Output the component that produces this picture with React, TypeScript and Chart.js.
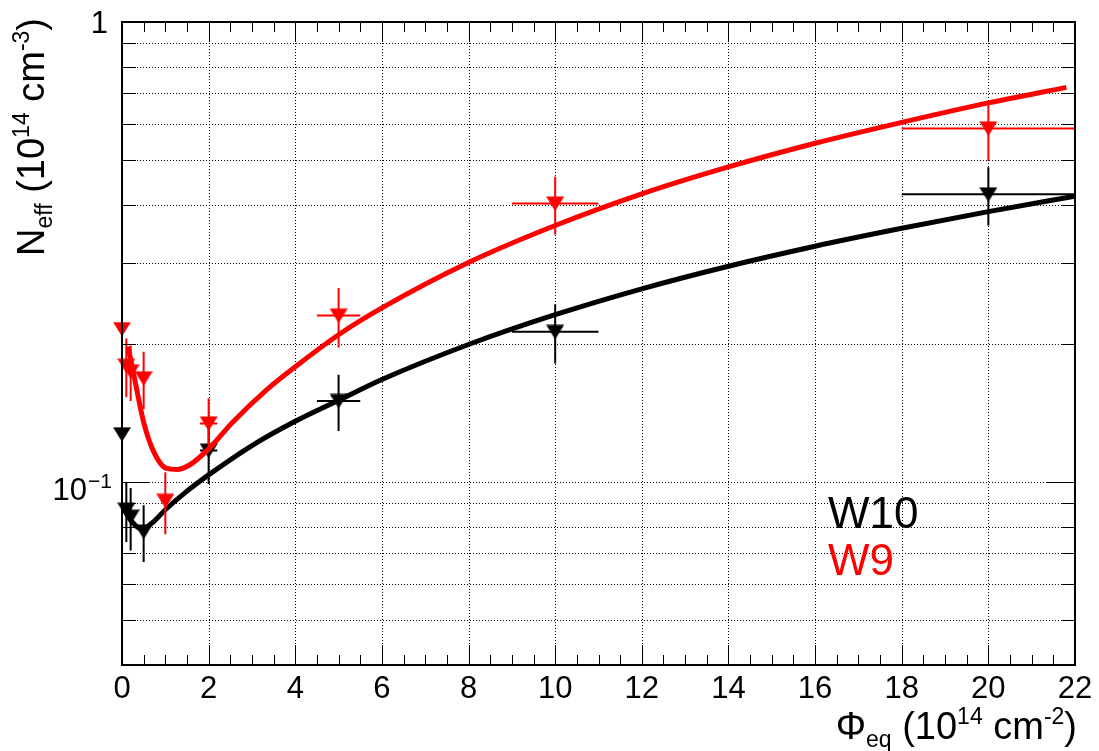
import React, { useEffect, useRef } from 'react';
import { Chart, registerables } from 'chart.js';

Chart.register(...registerables);

const FONT = '"Liberation Sans", Arial, Helvetica, sans-serif';
const RED = '#ff0000';
const BLACK = '#000000';

// W10 measurements: fluence (1e14 cm^-2) and N_eff (1e14 cm^-3)
const w10Fluence = [0, 0.1, 0.2, 0.5, 2, 5, 10, 20];
const w10FluenceErr = [0, 0.01, 0.02, 0.05, 0.2, 0.5, 1, 2];
const w10Neff = [0.127, 0.087, 0.084, 0.078, 0.117, 0.15, 0.212, 0.422];
const w10NeffErr = [0.017, 0.013, 0.013, 0.011, 0.018, 0.021, 0.031, 0.061];

// W9 measurements
const w9Fluence = [0, 0.1, 0.2, 0.5, 1, 2, 5, 10, 20];
const w9FluenceErr = [0, 0.01, 0.02, 0.05, 0.1, 0.2, 0.5, 1, 2];
const w9Neff = [0.215, 0.179, 0.174, 0.168, 0.091, 0.134, 0.23, 0.403, 0.587];
const w9NeffErr = [0.031, 0.026, 0.024, 0.024, 0.014, 0.018, 0.034, 0.058, 0.088];

// Fitted curves
const w10FitFluence = [0.03, 0.22, 0.45, 0.7, 1.0, 1.5, 2.0, 3.0, 4.0, 5.0, 6.0, 8.0, 10.0, 12.0, 14.0, 16.0, 18.0, 20.0, 22.0];
const w10FitNeff = [0.0879, 0.0822, 0.079, 0.0815, 0.087, 0.0955, 0.1036, 0.12, 0.1355, 0.1505, 0.167, 0.199, 0.231, 0.263, 0.2945, 0.3255, 0.356, 0.387, 0.418];
const w9FitFluence = [0.14, 0.3, 0.49, 0.72, 1.03, 1.27, 1.57, 2.0, 2.56, 3.35, 4.1, 5.0, 6.0, 8.0, 10.0, 12.0, 14.0, 16.0, 18.0, 20.0, 21.8];
const w9FitNeff = [0.197, 0.166, 0.136, 0.117, 0.107, 0.1065, 0.109, 0.118, 0.135, 0.159, 0.181, 0.209, 0.239, 0.3, 0.361, 0.423, 0.484, 0.545, 0.605, 0.667, 0.721];

// Axis ranges, grid and labels
const xMin = 0;
const xMax = 22;
const xStep = 2;
const xMinorStep = 0.5;
const yMin = 0.04;
const yMax = 1;
const yMajorValues = [0.1, 1];
const yMinorValues = [0.05, 0.06, 0.07, 0.08, 0.09, 0.2, 0.3, 0.4, 0.5, 0.6, 0.7, 0.8, 0.9];
const yLabelValues = [1, 0.1];
const yLabelBases = ['1', '10'];
const yLabelExps = ['', '\u22121'];
const legendNames = ['W10', 'W9'];
const legendColors = [BLACK, RED];

type Run = { t: string; s: number; dy?: number };

const xTitleRuns: Run[] = [
  { t: '\u03A6', s: 38 },
  { t: 'eq', s: 23, dy: 8 },
  { t: ' (10', s: 38 },
  { t: '14', s: 23, dy: -15 },
  { t: ' cm', s: 38 },
  { t: '-2', s: 23, dy: -15 },
  { t: ')', s: 38 },
];
const yTitleRuns: Run[] = [
  { t: 'N', s: 38 },
  { t: 'eff', s: 23, dy: 8 },
  { t: ' (10', s: 38 },
  { t: '14', s: 23, dy: -15 },
  { t: ' cm', s: 38 },
  { t: '-3', s: 23, dy: -15 },
  { t: ')', s: 38 },
];

function runsWidth(ctx: CanvasRenderingContext2D, runs: Run[]) {
  let w = 0;
  for (const r of runs) {
    ctx.font = `${r.s}px ${FONT}`;
    w += ctx.measureText(r.t).width;
  }
  return w;
}

function drawRuns(ctx: CanvasRenderingContext2D, runs: Run[], x: number, y: number) {
  let cx = x;
  ctx.textAlign = 'left';
  ctx.textBaseline = 'alphabetic';
  for (const r of runs) {
    ctx.font = `${r.s}px ${FONT}`;
    ctx.fillText(r.t, cx, y + (r.dy || 0));
    cx += ctx.measureText(r.t).width;
  }
}

function downTriangle(color: string) {
  const c = document.createElement('canvas');
  c.width = 18;
  c.height = 15;
  const g = c.getContext('2d')!;
  g.fillStyle = color;
  g.beginPath();
  g.moveTo(0, 0.5);
  g.lineTo(18, 0.5);
  g.lineTo(9, 15);
  g.closePath();
  g.fill();
  return c;
}

const errorBarPlugin = {
  id: 'errorBars',
  beforeDatasetDraw(chart: any, args: any) {
    const ds = chart.data.datasets[args.index];
    if (!ds.errorBars) return;
    const { ctx } = chart;
    const xs = chart.scales.x;
    const ys = chart.scales.y;
    ctx.save();
    ctx.strokeStyle = ds.errorBars.color;
    ctx.lineWidth = 2;
    ds.data.forEach((p: any, i: number) => {
      const ex = ds.errorBars.x[i];
      const ey = ds.errorBars.y[i];
      const px = xs.getPixelForValue(p.x);
      const py = ys.getPixelForValue(p.y);
      ctx.beginPath();
      ctx.moveTo(px, ys.getPixelForValue(p.y + ey));
      ctx.lineTo(px, ys.getPixelForValue(p.y - ey));
      if (ex > 0) {
        ctx.moveTo(xs.getPixelForValue(p.x - ex), py);
        ctx.lineTo(xs.getPixelForValue(p.x + ex), py);
      }
      ctx.stroke();
    });
    ctx.restore();
  },
};

const framePlugin = {
  id: 'frameGrid',
  beforeDatasetsDraw(chart: any) {
    const { ctx, chartArea: a } = chart;
    const xs = chart.scales.x;
    const ys = chart.scales.y;
    ctx.save();
    ctx.strokeStyle = '#000';
    ctx.lineWidth = 1;
    ctx.setLineDash([1, 2]);
    ctx.beginPath();
    for (let v = xMin + xStep; v < xMax; v += xStep) {
      const px = Math.round(xs.getPixelForValue(v)) + 0.5;
      ctx.moveTo(px, a.top);
      ctx.lineTo(px, a.bottom);
    }
    for (const v of [...yMinorValues, 0.1]) {
      const py = Math.round(ys.getPixelForValue(v)) + 0.5;
      ctx.moveTo(a.left, py);
      ctx.lineTo(a.right, py);
    }
    ctx.stroke();
    ctx.restore();
  },
  afterDraw(chart: any) {
    const { ctx, chartArea: a } = chart;
    const xs = chart.scales.x;
    const ys = chart.scales.y;
    ctx.save();
    ctx.strokeStyle = '#000';
    ctx.setLineDash([]);
    // ticks on all four sides, pointing inward
    ctx.lineWidth = 1;
    ctx.beginPath();
    for (let v = xMin; v <= xMax + 1e-9; v += xMinorStep) {
      const major = Math.abs(v / xStep - Math.round(v / xStep)) < 1e-6;
      const len = major ? 20 : 10;
      const px = Math.round(xs.getPixelForValue(v)) + 0.5;
      ctx.moveTo(px, a.bottom);
      ctx.lineTo(px, a.bottom - len);
      ctx.moveTo(px, a.top);
      ctx.lineTo(px, a.top + len);
    }
    const yTicks: [number, number][] = [
      ...yMajorValues.map((v) => [v, 28] as [number, number]),
      ...yMinorValues.map((v) => [v, 14] as [number, number]),
    ];
    for (const [v, len] of yTicks) {
      const py = Math.round(ys.getPixelForValue(v)) + 0.5;
      ctx.moveTo(a.left, py);
      ctx.lineTo(a.left + len, py);
      ctx.moveTo(a.right, py);
      ctx.lineTo(a.right - len, py);
    }
    ctx.stroke();
    // frame
    ctx.lineWidth = 2;
    ctx.strokeRect(a.left, a.top, a.right - a.left, a.bottom - a.top);

    // y tick labels (power-of-ten notation)
    ctx.fillStyle = '#000';
    yLabelValues.forEach((v, i) => {
      const py = ys.getPixelForValue(v);
      const exp = yLabelExps[i];
      ctx.textBaseline = 'alphabetic';
      ctx.textAlign = 'right';
      if (!exp) {
        ctx.font = `31px ${FONT}`;
        ctx.fillText(yLabelBases[i], a.left - 14, py + 11);
      } else {
        ctx.font = `21px ${FONT}`;
        const ew = ctx.measureText(exp).width;
        const right = a.left - 10;
        ctx.fillText(exp, right, py + 6);
        ctx.font = `31px ${FONT}`;
        ctx.fillText(yLabelBases[i], right - ew - 1, py + 18);
      }
    });

    // axis titles
    const xw = runsWidth(ctx, xTitleRuns);
    drawRuns(ctx, xTitleRuns, a.right + 2 - xw, 739);
    const yw = runsWidth(ctx, yTitleRuns);
    ctx.save();
    ctx.translate(44, a.top - 4 + yw);
    ctx.rotate(-Math.PI / 2);
    drawRuns(ctx, yTitleRuns, 0, 0);
    ctx.restore();

    // legend entries
    ctx.font = `44px ${FONT}`;
    ctx.textAlign = 'left';
    ctx.textBaseline = 'alphabetic';
    legendNames.forEach((name, i) => {
      ctx.fillStyle = legendColors[i];
      ctx.fillText(name, 828, 528 + i * 47);
    });
    ctx.restore();
  },
};

function points(xs: number[], ys: number[]) {
  return xs.map((x, i) => ({ x, y: ys[i] }));
}

export default function App() {
  const canvasRef = useRef<HTMLCanvasElement | null>(null);

  useEffect(() => {
    if (!canvasRef.current) return;
    const chart = new Chart(canvasRef.current, {
      type: 'scatter',
      data: {
        datasets: [
          {
            label: 'W9',
            data: points(w9Fluence, w9Neff),
            pointStyle: downTriangle(RED) as any,
            pointRadius: 9,
            borderColor: RED,
            backgroundColor: RED,
            showLine: false,
            clip: false as any,
            order: 1,
            errorBars: { x: w9FluenceErr, y: w9NeffErr, color: RED },
          } as any,
          {
            label: 'W9 fit',
            data: points(w9FitFluence, w9FitNeff),
            showLine: true,
            pointRadius: 0,
            borderColor: RED,
            borderWidth: 5,
            cubicInterpolationMode: 'monotone',
            order: 2,
          } as any,
          {
            label: 'W10 fit',
            data: points(w10FitFluence, w10FitNeff),
            showLine: true,
            pointRadius: 0,
            borderColor: BLACK,
            borderWidth: 5,
            cubicInterpolationMode: 'monotone',
            order: 3,
          } as any,
          {
            label: 'W10',
            data: points(w10Fluence, w10Neff),
            pointStyle: downTriangle(BLACK) as any,
            pointRadius: 9,
            borderColor: BLACK,
            backgroundColor: BLACK,
            showLine: false,
            clip: false as any,
            order: 4,
            errorBars: { x: w10FluenceErr, y: w10NeffErr, color: BLACK },
          } as any,
        ],
      },
      options: {
        responsive: false,
        animation: false,
        devicePixelRatio: 1,
        layout: { padding: { left: 0, right: 24, top: 22, bottom: 0 } },
        scales: {
          x: {
            type: 'linear',
            min: xMin,
            max: xMax,
            afterFit: (s: any) => {
              s.height = 86;
            },
            grid: { display: false, drawTicks: false },
            border: { display: false },
            ticks: {
              stepSize: xStep,
              autoSkip: false,
              maxRotation: 0,
              color: '#000',
              padding: 6,
              font: { family: FONT, size: 31 },
            },
          },
          y: {
            type: 'logarithmic',
            min: yMin,
            max: yMax,
            afterFit: (s: any) => {
              s.width = 122;
            },
            grid: { display: false, drawTicks: false },
            border: { display: false },
            ticks: { display: false },
          },
        },
        plugins: {
          legend: { display: false },
          tooltip: { enabled: false },
        },
      },
      plugins: [framePlugin, errorBarPlugin],
    });
    return () => chart.destroy();
  }, []);

  return (
    <div style={{ position: 'absolute', left: 0, top: 0, width: 1099, height: 751, background: '#fff' }}>
      <canvas ref={canvasRef} width={1099} height={751} style={{ display: 'block' }} />
    </div>
  );
}
